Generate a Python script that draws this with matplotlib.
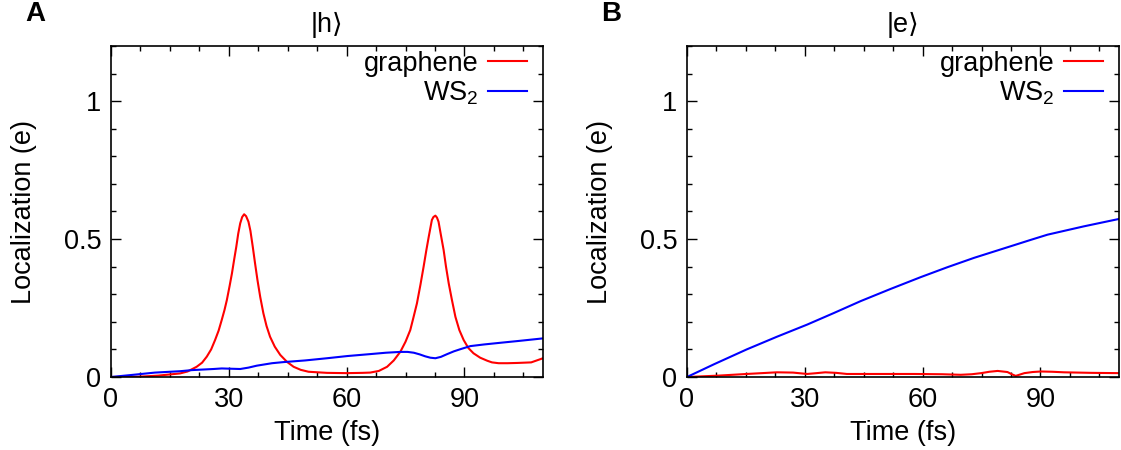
import numpy as np
import matplotlib
matplotlib.use("Agg")
import matplotlib.pyplot as plt
from matplotlib.ticker import MultipleLocator, FixedLocator, FixedFormatter

plt.rcParams['font.family'] = ['Liberation Sans', 'DejaVu Sans']
plt.rcParams['mathtext.fontset'] = 'custom'
plt.rcParams['mathtext.rm'] = 'Liberation Sans'
plt.rcParams['mathtext.default'] = 'regular'

# hole state |h>: graphene
t_h_gr = [0, 6.9, 12, 15.5, 17.6, 19.5, 21.8, 23.2, 24.4, 25.5, 26.5, 27.4, 28.2, 28.9,
          29.5, 30.2, 30.8, 31.35, 31.9, 32.4, 32.9, 33.4, 33.9, 34.4, 35.0, 35.5, 36.1,
          36.7, 37.3, 38.0, 38.8, 39.6, 40.5, 41.7, 43.1, 44.8, 46.5, 48.3, 50.3, 55, 60,
          64, 66.0, 68.2, 70.3, 72.0, 73.7, 75.0, 76.2, 77.0, 77.9, 78.8, 79.6, 80.3,
          80.9, 81.7, 82.1, 82.6, 83.0, 83.4, 84.0, 84.7, 85.3, 86.0, 86.8, 87.7, 88.7,
          89.8, 91.0, 92.3, 94.0, 95.8, 97.0, 98.7, 101, 103.6, 107, 110]
v_h_gr = [0, 0.001, 0.005, 0.010, 0.013, 0.020, 0.037, 0.052, 0.074, 0.100, 0.134, 0.168,
          0.207, 0.243, 0.279, 0.330, 0.376, 0.425, 0.472, 0.520, 0.557, 0.580, 0.590,
          0.583, 0.563, 0.530, 0.472, 0.410, 0.351, 0.290, 0.231, 0.185, 0.146, 0.110,
          0.080, 0.055, 0.037, 0.026, 0.019, 0.015, 0.014, 0.015, 0.016, 0.022, 0.037,
          0.060, 0.092, 0.128, 0.170, 0.215, 0.267, 0.335, 0.400, 0.460, 0.508, 0.569,
          0.580, 0.585, 0.578, 0.563, 0.515, 0.460, 0.400, 0.339, 0.280, 0.218, 0.170,
          0.134, 0.105, 0.086, 0.070, 0.059, 0.053, 0.050, 0.050, 0.051, 0.053, 0.068]

# hole state |h>: WS2
t_h_ws = [0, 5, 11.2, 17.6, 20.6, 26.1, 28.2, 30.5, 32.9, 35.0, 37.1, 41, 43.9, 49.4, 55,
          60.2, 66.0, 70, 73.7, 75.5, 77.1, 78.6, 80.0, 81.3, 82.6, 84.0, 85.6, 87.3,
          89.0, 91.5, 95, 99.1, 104, 110]
v_h_ws = [0, 0.007, 0.016, 0.021, 0.025, 0.029, 0.031, 0.030, 0.029, 0.034, 0.041, 0.050,
          0.054, 0.060, 0.068, 0.076, 0.083, 0.088, 0.091, 0.091, 0.088, 0.082, 0.075,
          0.070, 0.068, 0.073, 0.083, 0.093, 0.101, 0.112, 0.118, 0.124, 0.131, 0.140]

# electron state |e>: graphene
t_e_gr = [0, 8, 15.2, 22.9, 27, 30.6, 33, 35.2, 38, 40.7, 50, 57.8, 65, 69.7, 72.5, 74.9,
          77, 79.1, 81.6, 82.7, 83.7, 84.8, 85.9, 88, 90.1, 93, 96, 103, 110]
v_e_gr = [0, 0.005, 0.011, 0.017, 0.016, 0.011, 0.014, 0.017, 0.015, 0.011, 0.011, 0.011,
          0.010, 0.008, 0.010, 0.014, 0.019, 0.022, 0.018, 0.010, 0.004, 0.009, 0.014,
          0.018, 0.020, 0.019, 0.017, 0.015, 0.014]

# electron state |e>: WS2
t_e_ws = [0, 7, 15.2, 22.9, 30.6, 37.4, 44.2, 51.8, 59.5, 66.3, 73.1, 78.2, 83.3, 87.5,
          91.8, 101, 110]
v_e_ws = [0, 0.047, 0.100, 0.146, 0.190, 0.232, 0.275, 0.319, 0.362, 0.398, 0.432, 0.455,
          0.478, 0.497, 0.516, 0.546, 0.573]

x_major = [0, 30, 60, 90]
y_major = [0, 0.5, 1]
y_labels = ['0', '0.5', '1']

fs = 19.5
fig = plt.figure(figsize=(11.21, 4.5), dpi=100)
W, H = 1121, 450

panels = [
    (111, '|h\u27e9', 'A', 35, t_h_gr, v_h_gr, t_h_ws, v_h_ws),
    (687, '|e\u27e9', 'B', 611, t_e_gr, v_e_gr, t_e_ws, v_e_ws),
]

for x0, title, letter, lx, tg, vg, tw, vw in panels:
    ax = fig.add_axes([x0 / W, 1 - 377 / H, 432 / W, 331 / H])
    ax.plot(tg, vg, color='#ff0000', lw=1.5, label='graphene')
    ax.plot(tw, vw, color='#0000ff', lw=1.5, label='WS$_2$')
    ax.set_xlim(0, 110)
    ax.set_ylim(0, 1.2)
    ax.xaxis.set_major_locator(FixedLocator(x_major))
    ax.xaxis.set_minor_locator(MultipleLocator(7.5))
    ax.yaxis.set_major_locator(FixedLocator(y_major))
    ax.yaxis.set_major_formatter(FixedFormatter(y_labels))
    ax.yaxis.set_minor_locator(MultipleLocator(0.1))
    ax.tick_params(which='both', direction='in', top=True, right=True,
                   labelsize=fs, width=1.0)
    ax.tick_params(which='major', length=7, pad=7)
    ax.tick_params(which='minor', length=3.5)
    for s in ax.spines.values():
        s.set_linewidth(1.2)
    ax.set_xlabel('Time (fs)', fontsize=fs, labelpad=5)
    ax.set_ylabel('Localization (e)', fontsize=fs, labelpad=19)
    ax.set_title(title, fontsize=fs, pad=10)
    ax.legend(loc='upper right', bbox_to_anchor=(1 - 16 / 432, 0.985),
              markerfirst=False, frameon=False, fontsize=fs, handlelength=1.45,
              handletextpad=0.35, labelspacing=0.1, borderaxespad=0, borderpad=0)
    fig.text(lx / W, 1 - 14 / H, letter, fontsize=20, fontweight='bold',
             ha='center', va='center')

fig.savefig('out.png', dpi=100)
